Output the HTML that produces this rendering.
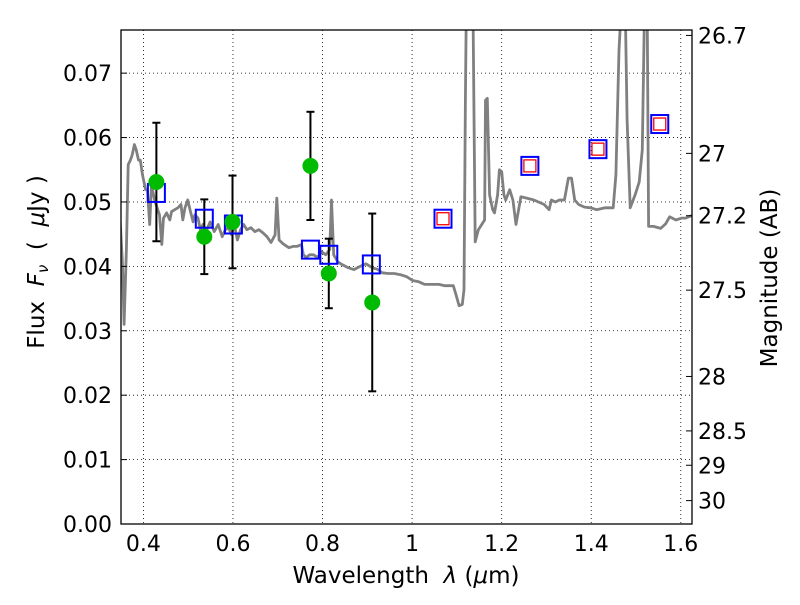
<!DOCTYPE html>
<html><head><meta charset="utf-8"><style>
body{margin:0;background:#fff;}
svg text{font-family:"DejaVu Sans","Liberation Sans",sans-serif;}
</style></head><body>
<svg id="chart" width="800" height="600" xmlns="http://www.w3.org/2000/svg">
<defs><clipPath id="clip"><rect x="121" y="30" width="571" height="494"/></clipPath></defs>
<rect width="800" height="600" fill="#fff"/>
<g id="grid"></g>
<g id="plot" clip-path="url(#clip)"></g>
<rect x="121" y="30" width="571" height="494" fill="none" stroke="#000" stroke-width="1.3"/>
<g id="ticks"></g>
<text x="406" y="583" font-size="23" text-anchor="middle">Wavelength&#160;&#160;<tspan font-style="italic">λ</tspan>&#160;(<tspan font-style="italic">μ</tspan>m)</text>
<text transform="translate(44,262) rotate(-90)" font-size="23" text-anchor="middle">Flux&#160;&#160;<tspan font-style="italic">F<tspan font-size="15" dy="4">ν</tspan></tspan><tspan dy="-4">&#160;&#160;(&#160;&#160;</tspan><tspan font-style="italic">μ</tspan>Jy&#160;)</text>
<text transform="translate(777,278) rotate(-90)" font-size="23" text-anchor="middle">Magnitude (AB)</text>
</svg>
<script>
const specWave=[0.348,0.353,0.357,0.362,0.366,0.371,0.375,0.380,0.384,0.389,0.393,0.398,0.405,0.409,0.414,0.418,0.425,0.432,0.436,0.441,0.445,0.452,0.459,0.463,0.470,0.477,0.484,0.488,0.493,0.499,0.504,0.511,0.515,0.522,0.527,0.533,0.540,0.549,0.558,0.567,0.576,0.583,0.590,0.597,0.603,0.610,0.617,0.624,0.631,0.640,0.649,0.658,0.667,0.676,0.685,0.694,0.698,0.703,0.712,0.725,0.734,0.743,0.753,0.757,0.764,0.771,0.780,0.789,0.798,0.807,0.816,0.820,0.825,0.834,0.843,0.857,0.870,0.884,0.897,0.911,0.924,0.933,0.947,0.960,0.974,0.988,1.001,1.015,1.028,1.042,1.060,1.073,1.092,1.098,1.105,1.112,1.116,1.119,1.121,1.136,1.141,1.148,1.162,1.164,1.168,1.173,1.180,1.184,1.191,1.195,1.200,1.205,1.209,1.218,1.225,1.232,1.243,1.256,1.272,1.295,1.306,1.311,1.320,1.329,1.340,1.349,1.356,1.363,1.372,1.385,1.399,1.412,1.431,1.449,1.455,1.462,1.467,1.476,1.480,1.487,1.498,1.507,1.514,1.519,1.525,1.528,1.539,1.555,1.566,1.575,1.589,1.602,1.611,1.625,1.638];
const specFlux=[0.0472,0.0410,0.0310,0.0426,0.0558,0.0565,0.0573,0.0589,0.0581,0.0565,0.0565,0.0542,0.0519,0.0519,0.0465,0.0527,0.0503,0.0488,0.0480,0.0434,0.0475,0.0483,0.0472,0.0485,0.0488,0.0491,0.0496,0.0472,0.0491,0.0503,0.0488,0.0469,0.0480,0.0475,0.0457,0.0465,0.0454,0.0469,0.0454,0.0465,0.0446,0.0457,0.0460,0.0449,0.0465,0.0441,0.0457,0.0465,0.0457,0.0460,0.0454,0.0457,0.0452,0.0446,0.0437,0.0449,0.0506,0.0441,0.0435,0.0429,0.0431,0.0431,0.0434,0.0418,0.0414,0.0418,0.0418,0.0414,0.0423,0.0418,0.0426,0.0503,0.0418,0.0407,0.0403,0.0398,0.0395,0.0400,0.0404,0.0398,0.0395,0.0390,0.0389,0.0389,0.0387,0.0384,0.0378,0.0376,0.0372,0.0372,0.0372,0.0370,0.0370,0.0356,0.0339,0.0341,0.0364,0.0658,0.0800,0.0800,0.0438,0.0457,0.0472,0.0658,0.0661,0.0511,0.0488,0.0483,0.0511,0.0550,0.0547,0.0511,0.0503,0.0519,0.0503,0.0465,0.0508,0.0506,0.0503,0.0496,0.0488,0.0503,0.0500,0.0503,0.0503,0.0537,0.0537,0.0503,0.0496,0.0492,0.0491,0.0488,0.0491,0.0491,0.0542,0.0736,0.0800,0.0800,0.0627,0.0491,0.0511,0.0531,0.0581,0.0800,0.0800,0.0462,0.0462,0.0459,0.0466,0.0477,0.0472,0.0475,0.0475,0.0479,0.0475];
const obsWave=[0.429,0.536,0.599,0.773,0.814,0.911];
const obsFlux=[0.0531,0.0446,0.0469,0.0556,0.0389,0.0344];
const obsErr=[0.0092,0.0058,0.0072,0.0084,0.0054,0.0138];
const modWave=[0.429,0.536,0.601,0.773,0.814,0.909,1.069,1.263,1.415,1.553];
const modFlux=[0.0514,0.0474,0.0465,0.0426,0.0418,0.0403,0.0474,0.0556,0.0582,0.0621];
const xTicks=[0.4,0.6,0.8,1.0,1.2,1.4,1.6];
const xTickLabels=["0.4","0.6","0.8","1","1.2","1.4","1.6"];
const yTicks=[0,0.01,0.02,0.03,0.04,0.05,0.06,0.07];
const yTickLabels=["0.00","0.01","0.02","0.03","0.04","0.05","0.06","0.07"];
const magTicks=[26.7,27,27.2,27.5,28,28.5,29,30];
const magTickLabels=["26.7","27","27.2","27.5","28","28.5","29","30"];

const NS="http://www.w3.org/2000/svg";
const L=121,R=692,T=30,B=524;
const xMin=0.35,xMax=1.625,yMin=0,yMax=0.0767;
function sx(v){return L+(v-xMin)/(xMax-xMin)*(R-L);}
function sy(v){return B-(v-yMin)/(yMax-yMin)*(B-T);}
function magToFlux(m){return Math.pow(10,(23.9-m)/2.5);}
function mk(tag,attrs,parent){const e=document.createElementNS(NS,tag);for(const k in attrs)e.setAttribute(k,attrs[k]);parent.appendChild(e);return e;}
const grid=document.getElementById('grid'),plot=document.getElementById('plot'),ticks=document.getElementById('ticks');

xTicks.forEach((v,i)=>{
  const g=mk('line',{x1:sx(v),x2:sx(v),y1:T,y2:B,stroke:'#000','stroke-width':0.8,'stroke-dasharray':'1,3'},grid);
  
  
  const t=mk('text',{x:sx(v),y:B+27,'font-size':22,'text-anchor':'middle'},ticks);
  t.textContent=xTickLabels[i];
  
  
});
yTicks.forEach((v,i)=>{
  const g=mk('line',{x1:L,x2:R,y1:sy(v),y2:sy(v),stroke:'#000','stroke-width':0.8,'stroke-dasharray':'1,3'},grid);
  
  
  const tk=mk('line',{x1:L,x2:L+6,y1:sy(v),y2:sy(v),stroke:'#000','stroke-width':1},ticks);
  
  
  const t=mk('text',{x:L-9,y:sy(v)+8,'font-size':22,'text-anchor':'end'},ticks);
  t.textContent=yTickLabels[i];
  
  
});
magTicks.forEach((m,i)=>{
  const y=sy(magToFlux(m));
  const tk=mk('line',{x1:R-6,x2:R,y1:y,y2:y,stroke:'#000','stroke-width':1},ticks);
  
  
  const t=mk('text',{x:R+6,y:y+8,'font-size':22,'text-anchor':'start'},ticks);
  t.textContent=magTickLabels[i];
  
  
});

const pts=specWave.map((w,i)=>sx(w).toFixed(1)+','+sy(specFlux[i]).toFixed(1)).join(' ');
const sp=mk('polyline',{points:pts,fill:'none',stroke:'#808080','stroke-width':2.8,'stroke-linejoin':'round'},plot);



obsWave.forEach((w,i)=>{
  const x=sx(w),y1=sy(obsFlux[i]+obsErr[i]),y2=sy(obsFlux[i]-obsErr[i]);
  const g=mk('g',{},plot);
  
  
  mk('line',{x1:x,x2:x,y1:y1,y2:y2,stroke:'#000','stroke-width':2},g);
  mk('line',{x1:x-4,x2:x+4,y1:y1,y2:y1,stroke:'#000','stroke-width':2},g);
  mk('line',{x1:x-4,x2:x+4,y1:y2,y2:y2,stroke:'#000','stroke-width':2},g);
});
modWave.forEach((w,i)=>{
  const x=sx(w),y=sy(modFlux[i]);
  const r=mk('rect',{x:x-8.5,y:y-9,width:17,height:18,fill:'none',stroke:'#0000ff','stroke-width':2},plot);
  
  
  if(w>1){
    const r2=mk('rect',{x:x-6,y:y-6,width:12,height:12,fill:'none',stroke:'#ff0000','stroke-width':1.3},plot);
    
    
  }
});
obsWave.forEach((w,i)=>{
  const c=mk('circle',{cx:sx(w),cy:sy(obsFlux[i]),r:8,fill:'#00bb00'},plot);
  
  
});
</script>
</body></html>
